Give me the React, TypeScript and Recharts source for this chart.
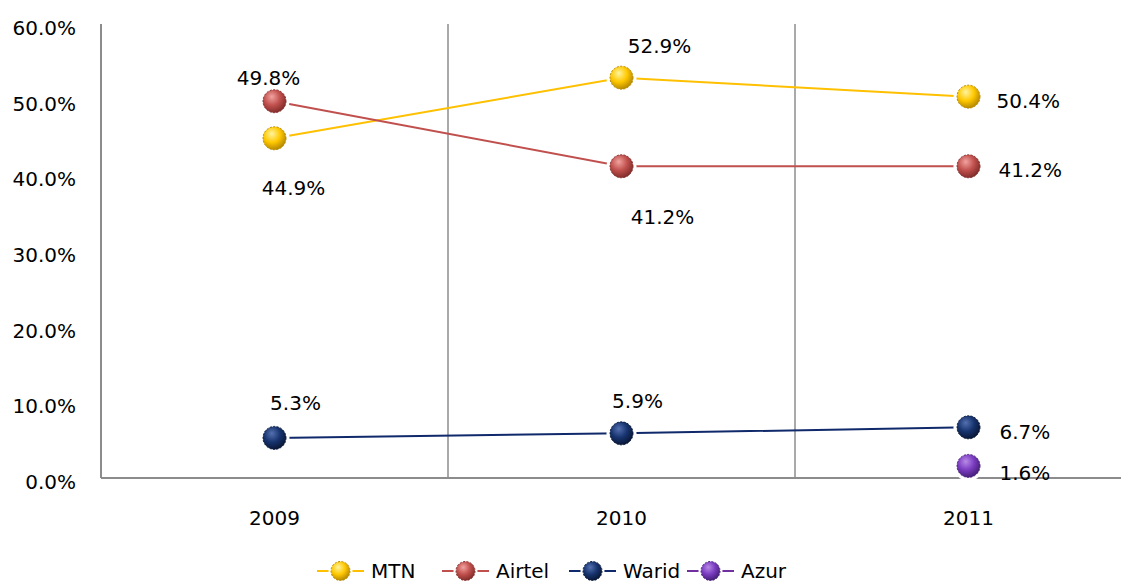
import React from "react";
import { LineChart, Line, XAxis, YAxis, CartesianGrid } from "recharts";

// data
const years = ["2009", "2010", "2011"];
const mtn = [44.9, 52.9, 50.4];
const airtel = [49.8, 41.2, 41.2];
const warid = [5.3, 5.9, 6.7];
const azur: (number | null)[] = [null, null, 1.6];
const yTicks = [0, 10, 20, 30, 40, 50, 60];

const data = years.map((year, i) => ({
  year,
  MTN: mtn[i],
  Airtel: airtel[i],
  Warid: warid[i],
  Azur: azur[i],
}));

const FONT = "'DejaVu Sans', sans-serif";

const series = [
  { key: "MTN", line: "#FFC000", light: "#FFF4A0", base: "#FFC800", dark: "#B88A00" },
  { key: "Airtel", line: "#C0504D", light: "#F2A3A0", base: "#C0504D", dark: "#842E2C" },
  { key: "Warid", line: "#10296B", light: "#5470B0", base: "#17346F", dark: "#0A1838" },
  { key: "Azur", line: "#7030A0", light: "#B88AE6", base: "#7A3CC0", dark: "#48207A" },
];

// label placement per point: offset from the marker centre
type Spot = { dx: number; dy: number; anchor: "middle" | "start" };
const labelSpots: Record<string, Spot[]> = {
  MTN: [
    { dx: 19, dy: 50, anchor: "middle" },
    { dx: 38, dy: -32, anchor: "middle" },
    { dx: 28, dy: 4, anchor: "start" },
  ],
  Airtel: [
    { dx: -6, dy: -23, anchor: "middle" },
    { dx: 41, dy: 51, anchor: "middle" },
    { dx: 30, dy: 4, anchor: "start" },
  ],
  Warid: [
    { dx: 21, dy: -35, anchor: "middle" },
    { dx: 16, dy: -32, anchor: "middle" },
    { dx: 31, dy: 5, anchor: "start" },
  ],
  Azur: [
    { dx: 0, dy: 0, anchor: "middle" },
    { dx: 0, dy: 0, anchor: "middle" },
    { dx: 31, dy: 7, anchor: "start" },
  ],
};

const legendSlots = [125, 127, 118, 110];

function Gradient({ id, s }: { id: string; s: (typeof series)[number] }) {
  return (
    <radialGradient id={id} cx="40%" cy="35%" r="65%" fx="38%" fy="30%">
      <stop offset="0%" stopColor={s.light} />
      <stop offset="55%" stopColor={s.base} />
      <stop offset="100%" stopColor={s.dark} />
    </radialGradient>
  );
}

const makeDot = (s: (typeof series)[number]) => (props: any) => {
  const { cx, cy, index } = props;
  if (cx == null || cy == null || isNaN(cy)) return <g key={`d-${s.key}-${index}`} />;
  return (
    <g key={`d-${s.key}-${index}`}>
      <circle cx={cx} cy={cy} r={15} fill="#fff" />
      <circle cx={cx} cy={cy} r={11.5} fill={`url(#g-${s.key})`} stroke={s.dark} strokeWidth={1} strokeDasharray="2 1.5" />
    </g>
  );
};

const makeLabel = (key: string) => (props: any) => {
  const { x, y, value, index } = props;
  if (value == null || x == null || y == null) return null;
  const spot = labelSpots[key][index];
  return (
    <text
      key={`l-${key}-${index}`}
      x={x + spot.dx}
      y={y + spot.dy}
      textAnchor={spot.anchor}
      dominantBaseline="central"
      fontFamily={FONT}
      fontSize={20}
      fill="#000"
    >
      {`${Number(value).toFixed(1)}%`}
    </text>
  );
};

function LegendRow() {
  return (
    <div style={{ display: "flex", alignItems: "center", paddingTop: 23, marginLeft: 309, height: 20 }}>
      {series.map((s, i) => (
        <div key={s.key} style={{ display: "flex", alignItems: "center", width: legendSlots[i], height: 20, flex: "none" }}>
          <svg width={47} height={20} style={{ display: "block", overflow: "visible" }}>
            <defs>
              <Gradient id={`lg-${s.key}`} s={s} />
            </defs>
            <line x1={0} x2={47} y1={10} y2={10} stroke={s.line} strokeWidth={2} />
            <circle cx={23.5} cy={10} r={12} fill="#fff" />
            <circle cx={23.5} cy={10} r={9.5} fill={`url(#lg-${s.key})`} stroke={s.dark} strokeWidth={1} strokeDasharray="2 1.5" />
          </svg>
          <span style={{ marginLeft: 7, fontFamily: FONT, fontSize: 20, lineHeight: "20px", color: "#000", whiteSpace: "nowrap" }}>
            {s.key}
          </span>
        </div>
      ))}
    </div>
  );
}

export default function App() {
  return (
    <div style={{ width: 1121, height: 575, overflow: "hidden", background: "#fff" }}>
      <LineChart width={1160} height={530} data={data} margin={{ top: 16, right: 26, left: 0, bottom: 0 }}>
        <defs>
          {series.map((s) => (
            <Gradient key={s.key} id={`g-${s.key}`} s={s} />
          ))}
        </defs>
        <CartesianGrid
          horizontal={false}
          stroke="#8c8c8c"
          strokeWidth={1.5}
          verticalCoordinatesGenerator={({ offset }: any) =>
            years.slice(1).map((_, i) => offset.left + (offset.width * (i + 1)) / years.length)
          }
        />
        <XAxis
          dataKey="year"
          scale="band"
          height={60}
          tickLine={false}
          tickSize={0}
          tickMargin={33}
          axisLine={{ stroke: "#8c8c8c", strokeWidth: 2 }}
          tick={{ fontFamily: FONT, fontSize: 20, fill: "#000" }}
        />
        <YAxis
          width={93}
          domain={[0, 60]}
          ticks={yTicks}
          tickLine={false}
          tickSize={0}
          tickMargin={25}
          axisLine={{ stroke: "#8c8c8c", strokeWidth: 2 }}
          tickFormatter={(v: number) => `${v.toFixed(1)}%`}
          tick={{ fontFamily: FONT, fontSize: 20, fill: "#000", dy: 4 }}
        />
        {series.map((s) => (
          <Line
            key={s.key}
            type="linear"
            dataKey={s.key}
            stroke={s.line}
            strokeWidth={2}
            dot={makeDot(s)}
            activeDot={false}
            label={makeLabel(s.key)}
            isAnimationActive={false}
          />
        ))}
      </LineChart>
      <LegendRow />
    </div>
  );
}
